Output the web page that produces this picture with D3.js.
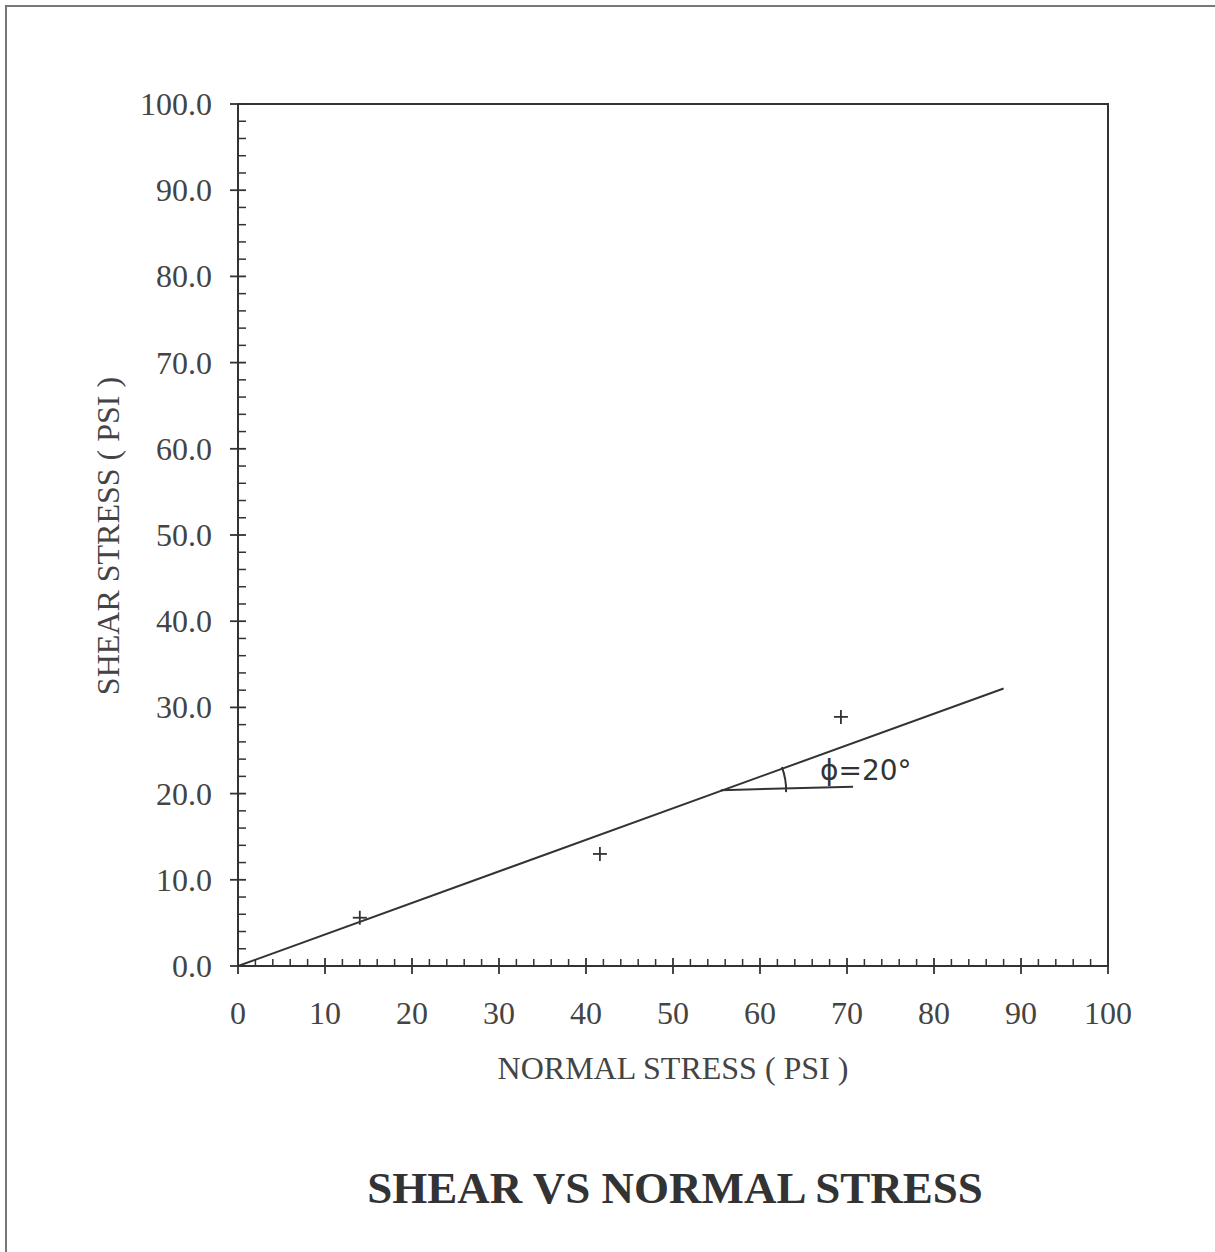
<!DOCTYPE html>
<html>
<head>
<meta charset="utf-8">
<script src="https://cdn.jsdelivr.net/npm/d3@7"></script>
<style>
  body { margin: 0; background: #fff; }
  svg { display: block; }
</style>
</head>
<body>
<svg id="chart" width="1215" height="1252"></svg>
<script>
// data
const normalStress = [14.0, 41.6, 69.3];
const shearStress = [5.6, 13.0, 28.9];
const fitX = [0, 88];
const fitY = [0, 32.2];
const phiLineX = [55.5, 70.7];
const phiLineY = [20.4, 20.8];
const xTicks = [0, 10, 20, 30, 40, 50, 60, 70, 80, 90, 100];
const yTicks = [0, 10, 20, 30, 40, 50, 60, 70, 80, 90, 100];

const ink = "#333";
const svg = d3.select("#chart");

// page frame from the scan
svg.append("line").attr("x1", 5).attr("y1", 6).attr("x2", 1215).attr("y2", 6)
    .attr("stroke", "#777").attr("stroke-width", 2);
svg.append("line").attr("x1", 6).attr("y1", 5).attr("x2", 6).attr("y2", 1252)
    .attr("stroke", "#777").attr("stroke-width", 2);

const plotL = 238, plotR = 1108, plotT = 104, plotB = 966;
const x = d3.scaleLinear().domain([0, 100]).range([plotL, plotR]);
const y = d3.scaleLinear().domain([0, 100]).range([plotB, plotT]);

// plot frame
svg.append("rect")
    .attr("x", plotL).attr("y", plotT)
    .attr("width", plotR - plotL).attr("height", plotB - plotT)
    .attr("fill", "none").attr("stroke", ink).attr("stroke-width", 2);

// minor ticks
const minor = d3.range(0, 101, 2).filter(v => v % 10 !== 0);
svg.append("g").selectAll("line").data(minor).join("line")
    .attr("x1", d => x(d)).attr("x2", d => x(d))
    .attr("y1", plotB).attr("y2", plotB - 7)
    .attr("stroke", ink).attr("stroke-width", 1.5);
svg.append("g").selectAll("line").data(minor).join("line")
    .attr("y1", d => y(d)).attr("y2", d => y(d))
    .attr("x1", plotL).attr("x2", plotL + 8)
    .attr("stroke", ink).attr("stroke-width", 1.5);

// major ticks (cross the axis)
svg.append("g").selectAll("line").data(xTicks).join("line")
    .attr("x1", d => x(d)).attr("x2", d => x(d))
    .attr("y1", plotB - 8).attr("y2", plotB + 8)
    .attr("stroke", ink).attr("stroke-width", 1.8);
svg.append("g").selectAll("line").data(yTicks).join("line")
    .attr("y1", d => y(d)).attr("y2", d => y(d))
    .attr("x1", plotL - 8).attr("x2", plotL + 8)
    .attr("stroke", ink).attr("stroke-width", 1.8);

const font = "'Liberation Serif', 'Times New Roman', serif";

// tick labels
svg.append("g").selectAll("text").data(xTicks).join("text")
    .attr("x", d => x(d)).attr("y", 1024)
    .attr("text-anchor", "middle")
    .attr("font-family", font).attr("font-size", 32).attr("fill", "#444")
    .text(d => d);
svg.append("g").selectAll("text").data(yTicks).join("text")
    .attr("x", 212).attr("y", d => y(d) + 11)
    .attr("text-anchor", "end")
    .attr("font-family", font).attr("font-size", 32).attr("fill", "#444")
    .text(d => d.toFixed(1));

// axis titles
svg.append("text")
    .attr("x", 673).attr("y", 1079)
    .attr("text-anchor", "middle")
    .attr("font-family", font).attr("font-size", 32).attr("fill", "#444")
    .text("NORMAL STRESS ( PSI )");
svg.append("text")
    .attr("transform", "translate(119,536) rotate(-90)")
    .attr("text-anchor", "middle")
    .attr("font-family", font).attr("font-size", 32).attr("fill", "#444")
    .text("SHEAR STRESS ( PSI )");

// chart title
svg.append("text")
    .attr("x", 675).attr("y", 1203)
    .attr("text-anchor", "middle")
    .attr("font-family", font).attr("font-size", 45).attr("font-weight", "bold")
    .attr("fill", "#333")
    .text("SHEAR VS NORMAL STRESS");

// failure envelope
const line = d3.line().x(d => x(d[0])).y(d => y(d[1]));
svg.append("path")
    .attr("d", line(d3.zip(fitX, fitY)))
    .attr("fill", "none").attr("stroke", ink).attr("stroke-width", 2);

// data points as plus marks
const pts = d3.zip(normalStress, shearStress);
const plus = svg.append("g").selectAll("g").data(pts).join("g")
    .attr("transform", d => `translate(${x(d[0])},${y(d[1])})`);
plus.append("line").attr("x1", -7).attr("x2", 7)
    .attr("stroke", ink).attr("stroke-width", 1.8);
plus.append("line").attr("y1", -7).attr("y2", 7)
    .attr("stroke", ink).attr("stroke-width", 1.8);

// handwritten phi annotation
svg.append("path")
    .attr("d", line(d3.zip(phiLineX, phiLineY)))
    .attr("fill", "none").attr("stroke", ink).attr("stroke-width", 2);
const cx = x(phiLineX[0]), cy = y(phiLineY[0]);
const r = x(63) - cx;
const arc = d3.path();
arc.arc(cx, cy, r, 0.03, -0.36, true);
svg.append("path")
    .attr("d", arc.toString())
    .attr("fill", "none").attr("stroke", ink).attr("stroke-width", 2);
svg.append("text")
    .attr("x", 820).attr("y", 780)
    .attr("font-family", "'DejaVu Sans', sans-serif").attr("font-size", 28)
    .attr("fill", "#333")
    .text("ϕ=20°");
</script>
</body>
</html>
